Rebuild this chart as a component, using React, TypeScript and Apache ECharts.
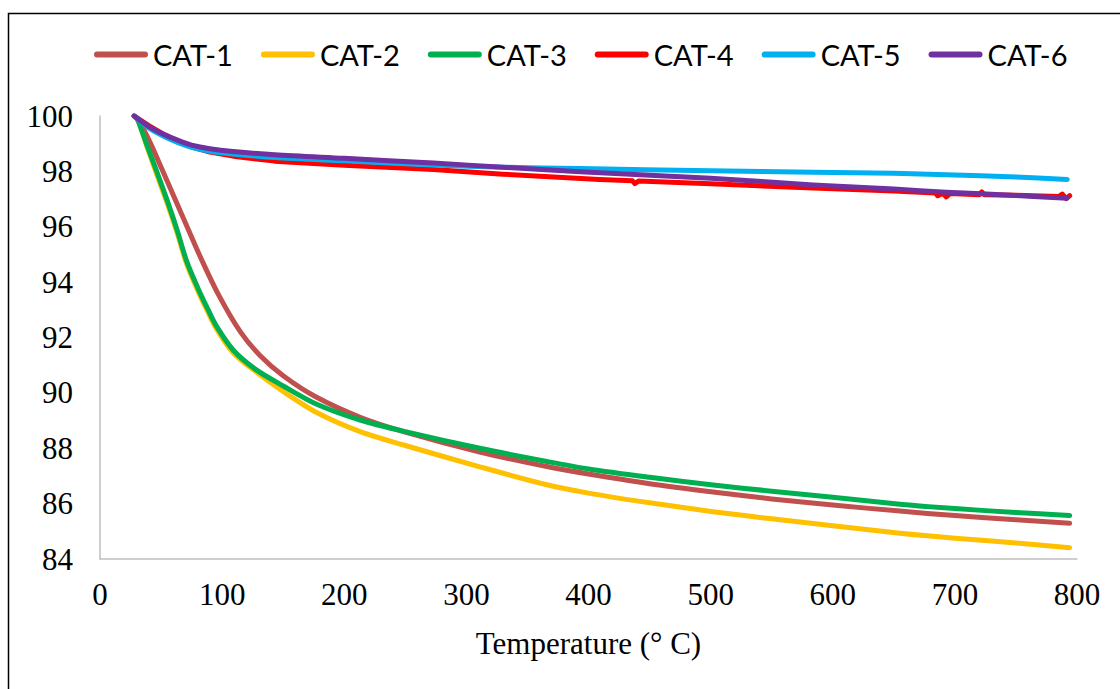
import React, { useEffect, useRef } from "react";
import * as echarts from "echarts";

const seriesNames = ["CAT-1", "CAT-2", "CAT-3", "CAT-4", "CAT-5", "CAT-6"];
const seriesColors = ["#C0504D", "#FFC000", "#00B050", "#FF0000", "#00B0F0", "#7030A0"];

const xTicks = [0, 100, 200, 300, 400, 500, 600, 700, 800];
const yTicks = [84, 86, 88, 90, 92, 94, 96, 98, 100];

const cat1T = [28, 31, 41, 50.5, 61.4, 72.3, 83.3, 97, 115, 131, 150, 177, 213, 250, 311, 366, 400, 450, 502, 550, 600, 655, 700, 750, 794];
const cat1V = [100, 99.9, 99.05, 98.1, 97.0, 95.9, 94.8, 93.55, 92.2, 91.35, 90.62, 89.85, 89.12, 88.58, 87.86, 87.34, 87.07, 86.72, 86.42, 86.17, 85.95, 85.73, 85.57, 85.42, 85.29];

const cat2T = [28, 31, 38, 46, 55, 63, 71, 80, 88, 95.5, 109, 128, 150, 177, 213, 250, 311, 366, 400, 450, 502, 550, 600, 655, 700, 750, 794];
const cat2V = [100, 99.85, 98.95, 97.95, 96.85, 95.8, 94.65, 93.7, 92.95, 92.3, 91.45, 90.75, 90.05, 89.3, 88.6, 88.1, 87.33, 86.68, 86.38, 86.03, 85.71, 85.45, 85.2, 84.93, 84.75, 84.58, 84.41];

const cat3T = [28, 31, 38, 46, 55, 63, 71, 80, 88, 95.5, 109, 128, 150, 177, 213, 250, 311, 366, 400, 450, 502, 550, 600, 655, 700, 750, 794];
const cat3V = [100, 99.85, 99.0, 98.05, 96.95, 95.9, 94.75, 93.8, 93.05, 92.4, 91.55, 90.83, 90.25, 89.6, 89.02, 88.6, 88.0, 87.52, 87.25, 86.95, 86.67, 86.45, 86.23, 85.98, 85.82, 85.68, 85.57];

const cat4T = [28, 40, 53, 65, 75, 90, 109, 143, 200, 273, 330, 409, 436, 438, 441, 500, 584, 650, 684, 686, 690, 693, 696, 720, 722, 724, 750, 785, 788, 791, 794];
const cat4V = [100, 99.65, 99.32, 99.05, 98.88, 98.7, 98.55, 98.37, 98.22, 98.07, 97.9, 97.71, 97.66, 97.56, 97.65, 97.55, 97.4, 97.29, 97.22, 97.12, 97.21, 97.08, 97.2, 97.16, 97.26, 97.16, 97.14, 97.09, 97.18, 97.02, 97.12];

const cat5T = [28, 40, 53, 65, 75, 90, 109, 143, 200, 273, 330, 393, 500, 584, 650, 693, 750, 792];
const cat5V = [100, 99.57, 99.25, 99.02, 98.87, 98.73, 98.63, 98.5, 98.38, 98.23, 98.15, 98.1, 98.02, 97.97, 97.93, 97.88, 97.8, 97.71];

const cat6T = [28, 40, 53, 65, 75, 90, 109, 143, 200, 273, 330, 393, 500, 584, 650, 693, 750, 792];
const cat6V = [100, 99.62, 99.32, 99.1, 98.95, 98.82, 98.72, 98.6, 98.47, 98.3, 98.15, 97.99, 97.75, 97.51, 97.36, 97.25, 97.13, 97.03];

const allT = [cat1T, cat2T, cat3T, cat4T, cat5T, cat6T];
const allV = [cat1V, cat2V, cat3V, cat4V, cat5V, cat6V];

export default function App() {
  const ref = useRef<HTMLDivElement>(null);
  useEffect(() => {
    if (!ref.current) return;
    const chart = echarts.init(ref.current, null, { renderer: "svg" });
    const series = seriesNames.map((name, i) => ({
      name,
      type: "line",
      data: allT[i].map((t, j) => [t, allV[i][j]]),
      symbol: "none",
      smooth: i === 3 ? false : 0.3,
      color: seriesColors[i],
      lineStyle: { color: seriesColors[i], width: 5, cap: "round", join: "round" },
      z: 2 + i,
    }));
    chart.setOption({
      animation: false,
      backgroundColor: "#ffffff",
      graphic: [
        {
          type: "rect",
          shape: { x: 8.5, y: 13.5, width: 1300, height: 900 },
          style: { fill: "none", stroke: "#000000", lineWidth: 1.5 },
          silent: true,
        },
      ],
      legend: {
        data: seriesNames,
        left: 89,
        top: 35,
        itemWidth: 54,
        itemHeight: 6,
        itemGap: 28,
        icon: "path://M3,0 L51,0 A3,3 0 0 1 51,6 L3,6 A3,3 0 0 1 3,0 Z",
        textStyle: {
          fontFamily: "Lato",
          fontSize: 29,
          color: "#000000",
          width: 80,
          padding: [0, 0, 0, 0],
        },
      },
      grid: { left: 100, top: 116, right: 43, bottom: 130, containLabel: false },
      xAxis: {
        type: "value",
        min: xTicks[0],
        max: xTicks[xTicks.length - 1],
        interval: 100,
        name: "Temperature (° C)",
        nameLocation: "middle",
        nameGap: 69,
        nameTextStyle: { fontFamily: "Liberation Serif", fontSize: 31, color: "#000000" },
        axisLine: { show: true, lineStyle: { color: "#BFBFBF", width: 1.5 } },
        axisTick: { show: false },
        splitLine: { show: false },
        axisLabel: { fontFamily: "Liberation Serif", fontSize: 31, color: "#000000", margin: 20 },
      },
      yAxis: {
        type: "value",
        min: yTicks[0],
        max: yTicks[yTicks.length - 1],
        interval: 2,
        axisLine: { show: true, lineStyle: { color: "#BFBFBF", width: 1.5 } },
        axisTick: { show: false },
        splitLine: { show: false },
        axisLabel: { fontFamily: "Liberation Serif", fontSize: 31, color: "#000000", margin: 27 },
      },
      series,
    });
    return () => chart.dispose();
  }, []);
  return (
    <div
      ref={ref}
      style={{ position: "fixed", left: 0, top: 0, width: 1120, height: 689, background: "#fff" }}
    />
  );
}
